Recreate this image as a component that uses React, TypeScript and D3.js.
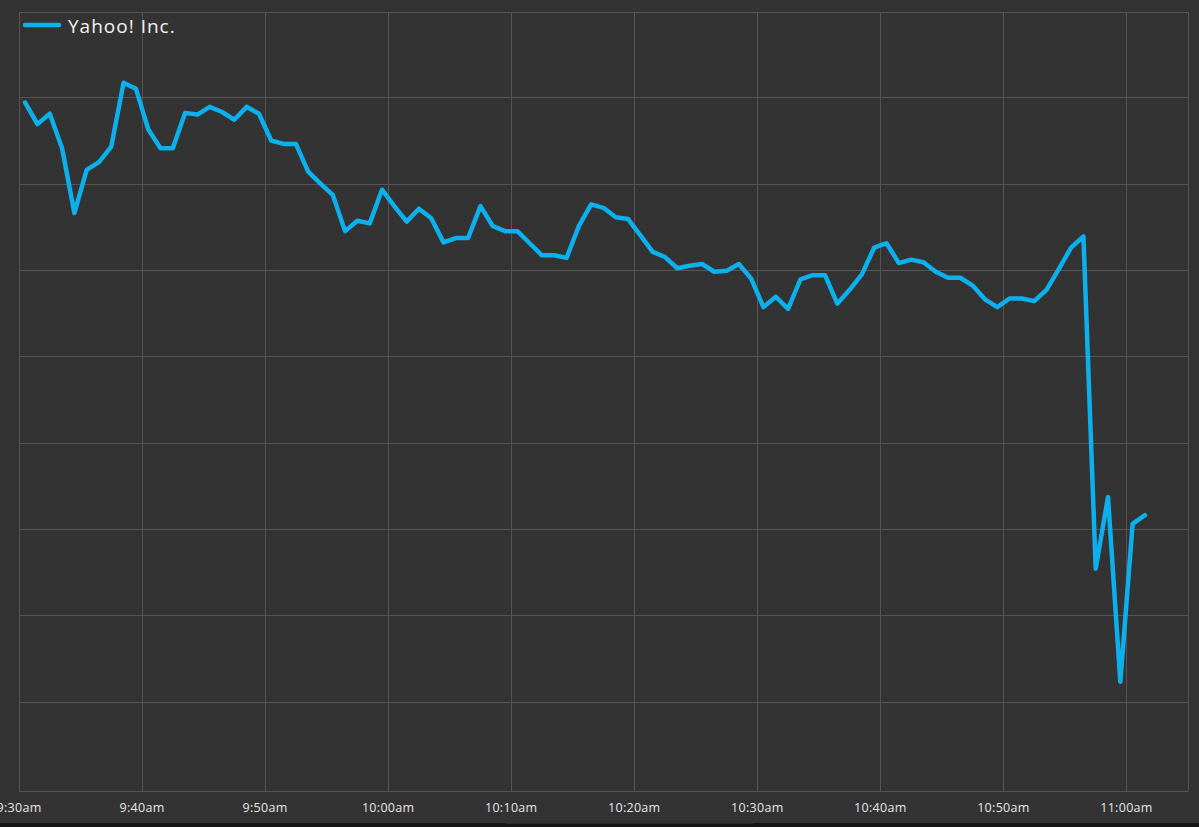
import * as d3 from 'd3';

// Yahoo! Inc. intraday quote, one point per minute starting 9:30:30
const seriesName = 'Yahoo! Inc.';
const sessionDay = '2013-07-16';
const firstQuote = '09:30:30';
const prices = [
  35.894, 35.869, 35.881, 35.841, 35.766, 35.816, 35.825, 35.843, 35.917, 35.91,
  35.863, 35.841, 35.841, 35.882, 35.88, 35.889, 35.883, 35.874, 35.889, 35.881,
  35.85, 35.846, 35.846, 35.814, 35.8, 35.787, 35.745, 35.757, 35.754, 35.793,
  35.774, 35.756, 35.771, 35.76, 35.732, 35.737, 35.737, 35.774, 35.751, 35.745,
  35.745, 35.731, 35.717, 35.717, 35.714, 35.751, 35.776, 35.772, 35.761, 35.759,
  35.74, 35.721, 35.715, 35.702, 35.705, 35.707, 35.698, 35.699, 35.707, 35.69,
  35.657, 35.669, 35.655, 35.689, 35.694, 35.694, 35.661, 35.677, 35.695, 35.726,
  35.731, 35.708, 35.712, 35.709, 35.698, 35.691, 35.691, 35.682, 35.666, 35.657,
  35.667, 35.667, 35.664, 35.677, 35.701, 35.726, 35.739, 35.354, 35.437, 35.223,
  35.406, 35.416,
];
const xDomain = ['09:30', '11:05'];
const xTicks = ['09:30', '09:40', '09:50', '10:00', '10:10', '10:20', '10:30', '10:40', '10:50', '11:00'];
const yDomain = [35.1, 36.0];
const yTicks = [35.2, 35.3, 35.4, 35.5, 35.6, 35.7, 35.8, 35.9];

const W = 1199;
const H = 827;
const plot = { left: 19, right: 1188, top: 12, bottom: 791 };

const parse = (t: string) => new Date(`${sessionDay}T${t.length === 5 ? t + ':00' : t}`);
const fmt = (d: Date) => d3.timeFormat('%-I:%M%p')(d).toLowerCase();

export default function App() {
  const start = parse(firstQuote);
  const data = prices.map((p, i) => ({ t: d3.timeMinute.offset(start, i), p }));

  const x = d3.scaleTime().domain(xDomain.map(parse)).range([plot.left, plot.right]);
  const y = d3.scaleLinear().domain(yDomain).range([788, 11]);

  const line = d3
    .line<{ t: Date; p: number }>()
    .x(d => x(d.t))
    .y(d => y(d.p));

  const tickDates = xTicks.map(parse);
  const crisp = (v: number) => Math.round(v) + 0.5;

  return (
    <svg
      width={W}
      height={H}
      style={{ position: 'fixed', left: 0, top: 0, display: 'block' }}
      fontFamily="'Open Sans', sans-serif"
    >
      <rect width={W} height={H} fill="#333333" />

      {/* grid */}
      <g stroke="#555555" strokeWidth={1} shapeRendering="crispEdges">
        <line x1={plot.left} x2={plot.right} y1={crisp(plot.top)} y2={crisp(plot.top)} />
        {yTicks.map(v => (
          <line key={v} x1={plot.left} x2={plot.right} y1={crisp(y(v))} y2={crisp(y(v))} />
        ))}
        <line x1={plot.left} x2={plot.right} y1={crisp(plot.bottom)} y2={crisp(plot.bottom)} />
        {tickDates.map(d => (
          <line key={+d} x1={crisp(x(d))} x2={crisp(x(d))} y1={plot.top} y2={plot.bottom} />
        ))}
        <line x1={crisp(plot.right)} x2={crisp(plot.right)} y1={plot.top} y2={plot.bottom} />
      </g>

      {/* x labels */}
      <g fill="#e6e6e6" fontSize={12.5} textAnchor="middle" letterSpacing={0.3}>
        {tickDates.map(d => (
          <text key={+d} x={x(d)} y={812}>
            {fmt(d)}
          </text>
        ))}
      </g>

      {/* series */}
      <path
        d={line(data) ?? ''}
        fill="none"
        stroke="#0cb0ec"
        strokeWidth={4.5}
        strokeLinejoin="round"
        strokeLinecap="round"
      />

      {/* legend */}
      <line x1={25} x2={59} y1={25} y2={25} stroke="#0cb0ec" strokeWidth={4.5} strokeLinecap="round" />
      <text x={68} y={33} fill="#f2f2f2" fontSize={19} letterSpacing={1}>
        {seriesName}
      </text>

      {/* bottom bar */}
      <rect x={0} y={823} width={W} height={4} fill="#161616" />
      <rect x={506} y={823} width={247} height={1} fill="#2a2a2a" />
    </svg>
  );
}
